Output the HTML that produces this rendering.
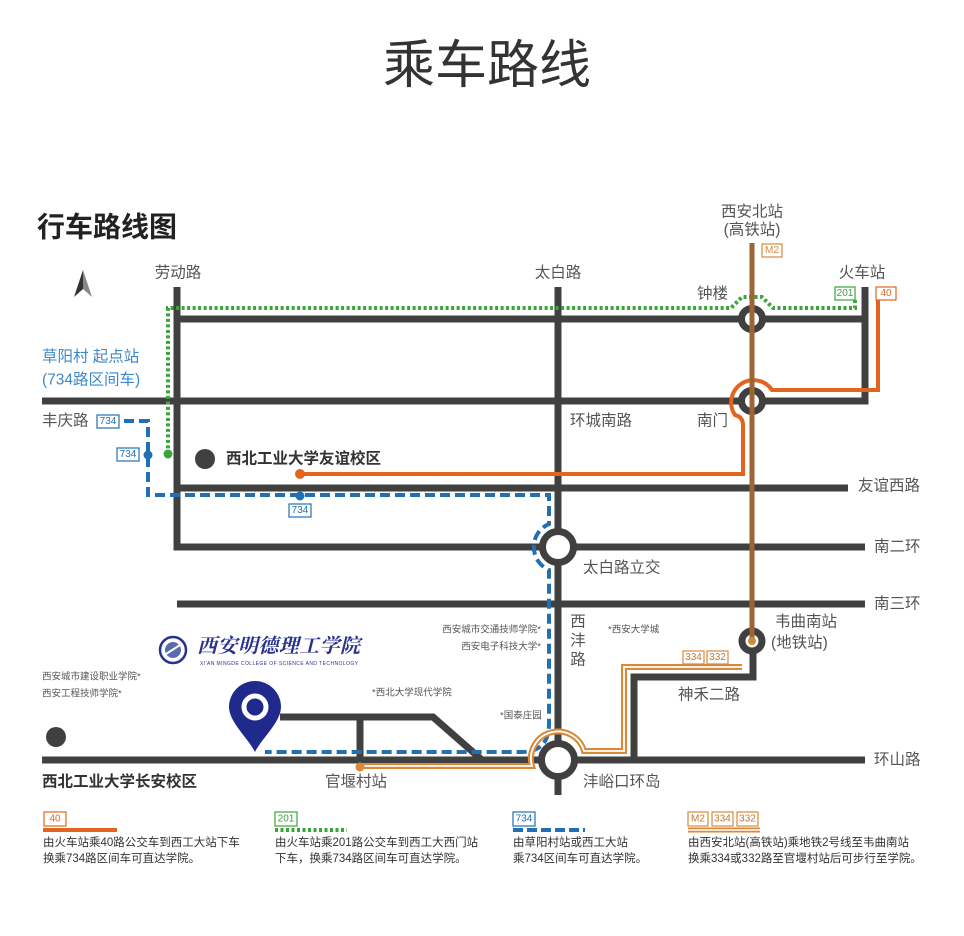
<!DOCTYPE html>
<html><head><meta charset="utf-8"><style>
html,body{margin:0;padding:0;background:#fff;}
svg{display:block;}
text{font-family:"Liberation Sans","Noto Sans CJK SC",sans-serif;}
</style></head><body>
<svg width="964" height="936" viewBox="0 0 964 936" xmlns="http://www.w3.org/2000/svg">
<rect width="964" height="936" fill="#fff"/>
<!-- Title -->
<text x="487" y="66" font-size="52" fill="#333" text-anchor="middle" dominant-baseline="central">乘车路线</text>
<text x="37" y="227" font-size="28" font-weight="bold" fill="#222" dominant-baseline="central">行车路线图</text>
<!-- North arrow -->
<polygon points="83,270 74,297 83,289" fill="#333"/>
<polygon points="83,270 92,297 83,289" fill="#888"/>

<!-- Roads -->
<g stroke="#404040" stroke-width="7" fill="none" stroke-linecap="butt">
<path d="M177 287 V548"/>
<path d="M173.5 319 H868.5"/>
<path d="M865 287 V404.5"/>
<path d="M42 401 H868.5"/>
<path d="M173.5 488 H848"/>
<path d="M173.5 547 H865"/>
<path d="M177 604 H865"/>
<path d="M558 287 V795"/>
<path d="M42 760 H865"/>
<path d="M753 641 V677 H634 V760"/>
<path d="M280 717 H433 L482 760"/>
<path d="M360 717 V760"/>
</g>
<!-- Rings -->
<g stroke="#404040" stroke-width="7" fill="#fff">
<circle cx="752" cy="319" r="10.5"/>
<circle cx="752" cy="401" r="10.5"/>
<circle cx="558" cy="547" r="15.5"/>
<circle cx="558" cy="760" r="16.5"/>
<circle cx="752" cy="641" r="10"/>
</g>

<!-- Route 40 (orange) -->
<path d="M878 300 V390 H772 A22 22 0 1 0 735 415 Q743 417 743 425 V474 H300" stroke="#e2641f" stroke-width="4" fill="none"/>
<circle cx="300" cy="474" r="5" fill="#e2641f"/>

<!-- Route 201 (green dotted) -->
<path d="M855 300 V308 H773 L762 297 H742 L731 308 H168 V454" stroke="#3aa53a" stroke-width="4" fill="none" stroke-dasharray="3 2.5"/>
<circle cx="168" cy="454" r="4.5" fill="#3aa53a"/>

<!-- Route 734 (blue dashed) -->
<path d="M124 421 H148 V495 H549 V524 A25 25 0 0 0 549 570 V724 Q549 752 521 752 H265" stroke="#2170b5" stroke-width="4" fill="none" stroke-dasharray="10 5"/>
<circle cx="148" cy="455" r="4.5" fill="#2170b5"/>
<circle cx="300" cy="496" r="4.5" fill="#2170b5"/>

<!-- Route 334/332 (tan double) -->
<path d="M742 667 H624 V751 H584 A27 27 0 0 0 532 766 H360" stroke="#d9893a" stroke-width="6" fill="none"/>
<path d="M742 667 H624 V751 H584 A27 27 0 0 0 532 766 H360" stroke="#fff" stroke-width="1.8" fill="none"/>
<circle cx="360" cy="767" r="4.5" fill="#d9893a"/>

<!-- M2 brown -->
<path d="M752 243 V641" stroke="#9b6534" stroke-width="5" fill="none"/>
<circle cx="752" cy="641" r="4" fill="#d08a3a"/>

<!-- Dots -->
<circle cx="205" cy="459" r="10" fill="#404040"/>
<circle cx="56" cy="737" r="10" fill="#404040"/>

<!-- Pin -->
<path d="M255 752 C248 738 229 722 229 707 A26 26 0 0 1 281 707 C281 722 262 738 255 752 Z" fill="#1f2a8c"/>
<circle cx="255" cy="707" r="11" fill="none" stroke="#fff" stroke-width="5"/>

<!-- Logo -->
<circle cx="173" cy="650" r="13" fill="#fff" stroke="#2a3290" stroke-width="2.5"/>
<circle cx="173" cy="650" r="8" fill="#5a6ab0"/>
<path d="M166 654 L180 645" stroke="#fff" stroke-width="2"/>
<text x="197" y="644" font-size="20" font-style="italic" font-weight="bold" fill="#2a3290" dominant-baseline="central" style="font-family:'Noto Serif CJK SC',serif" textLength="163">西安明德理工学院</text>
<text x="200" y="664" font-size="5" fill="#2a3290" dominant-baseline="central" textLength="158">XI'AN MINGDE COLLEGE OF SCIENCE AND TECHNOLOGY</text>

<!-- Labels -->
<g font-size="15.5" fill="#555" dominant-baseline="central">
<text x="178" y="273" text-anchor="middle">劳动路</text>
<text x="558" y="273" text-anchor="middle">太白路</text>
<text x="752" y="212" text-anchor="middle">西安北站</text>
<text x="752" y="230" text-anchor="middle">(高铁站)</text>
<text x="862" y="273" text-anchor="middle">火车站</text>
<text x="697" y="294">钟楼</text>
<text x="42" y="421">丰庆路</text>
<text x="570" y="421">环城南路</text>
<text x="697" y="421">南门</text>
<text x="858" y="486">友谊西路</text>
<text x="874" y="547">南二环</text>
<text x="874" y="604">南三环</text>
<text x="583" y="568">太白路立交</text>
<text x="578" y="622" text-anchor="middle">西</text>
<text x="578" y="641" text-anchor="middle">沣</text>
<text x="578" y="660" text-anchor="middle">路</text>
<text x="775" y="622">韦曲南站</text>
<text x="771" y="643">(地铁站)</text>
<text x="678" y="695">神禾二路</text>
<text x="874" y="760">环山路</text>
<text x="325" y="782">官堰村站</text>
<text x="583" y="782">沣峪口环岛</text>
</g>
<g font-size="15.5" fill="#3d88c8" dominant-baseline="central">
<text x="42" y="357">草阳村 起点站</text>
<text x="42" y="380">(734路区间车)</text>
</g>
<g font-size="15.5" font-weight="bold" fill="#333" dominant-baseline="central">
<text x="226" y="459">西北工业大学友谊校区</text>
<text x="42" y="782">西北工业大学长安校区</text>
</g>
<g font-size="9.5" fill="#555" dominant-baseline="central">
<text x="541" y="630" text-anchor="end">西安城市交通技师学院*</text>
<text x="541" y="647" text-anchor="end">西安电子科技大学*</text>
<text x="608" y="630">*西安大学城</text>
<text x="42" y="677">西安城市建设职业学院*</text>
<text x="42" y="694">西安工程技师学院*</text>
<text x="372" y="693">*西北大学现代学院</text>
<text x="500" y="716">*国泰庄园</text>
</g>

<!-- Route boxes on map -->
<g font-size="10" dominant-baseline="central" text-anchor="middle">
<rect x="762" y="244" width="20" height="13" fill="#fff" stroke="#d9893a" stroke-width="1.2"/><text x="772" y="250.5" fill="#d9893a">M2</text>
<rect x="835" y="287" width="20" height="13" fill="#fff" stroke="#3aa53a" stroke-width="1.2"/><text x="845" y="293.5" fill="#3aa53a">201</text>
<rect x="876" y="287" width="20" height="13" fill="#fff" stroke="#e2641f" stroke-width="1.2"/><text x="886" y="293.5" fill="#e2641f">40</text>
<rect x="97" y="415" width="22" height="13" fill="#fff" stroke="#2170b5" stroke-width="1.2"/><text x="108" y="421.5" fill="#2170b5">734</text>
<rect x="117" y="448" width="22" height="13" fill="#fff" stroke="#2170b5" stroke-width="1.2"/><text x="128" y="454.5" fill="#2170b5">734</text>
<rect x="289" y="504" width="22" height="13" fill="#fff" stroke="#2170b5" stroke-width="1.2"/><text x="300" y="510.5" fill="#2170b5">734</text>
<rect x="683" y="651" width="21" height="13" fill="#fff" stroke="#d9893a" stroke-width="1.2"/><text x="693.5" y="657.5" fill="#c07a30">334</text>
<rect x="707" y="651" width="21" height="13" fill="#fff" stroke="#d9893a" stroke-width="1.2"/><text x="717.5" y="657.5" fill="#c07a30">332</text>
</g>

<!-- Legend -->
<g font-size="10" dominant-baseline="central" text-anchor="middle">
<rect x="44" y="812" width="22" height="14" fill="#fff" stroke="#e2641f" stroke-width="1.2"/><text x="55" y="819" fill="#e2641f">40</text>
<rect x="275" y="812" width="22" height="14" fill="#fff" stroke="#3aa53a" stroke-width="1.2"/><text x="286" y="819" fill="#3aa53a">201</text>
<rect x="513" y="812" width="22" height="14" fill="#fff" stroke="#2170b5" stroke-width="1.2"/><text x="524" y="819" fill="#2170b5">734</text>
<rect x="688" y="812" width="20" height="14" fill="#fff" stroke="#d9893a" stroke-width="1.2"/><text x="698" y="819" fill="#c07a30">M2</text>
<rect x="712" y="812" width="21" height="14" fill="#fff" stroke="#d9893a" stroke-width="1.2"/><text x="722.5" y="819" fill="#c07a30">334</text>
<rect x="737" y="812" width="21" height="14" fill="#fff" stroke="#d9893a" stroke-width="1.2"/><text x="747.5" y="819" fill="#c07a30">332</text>
</g>
<path d="M43 830 H117" stroke="#e2641f" stroke-width="4"/>
<path d="M275 830 H347" stroke="#3aa53a" stroke-width="4" stroke-dasharray="3 2.5"/>
<path d="M513 830 H585" stroke="#2170b5" stroke-width="4" stroke-dasharray="10 4"/>
<path d="M688 830 H760" stroke="#d9893a" stroke-width="5"/>
<path d="M688 830 H760" stroke="#fff" stroke-width="1.5"/>
<g font-size="11.5" fill="#333" dominant-baseline="central">
<text x="43" y="843">由火车站乘40路公交车到西工大站下车</text>
<text x="43" y="859">换乘734路区间车可直达学院。</text>
<text x="275" y="843">由火车站乘201路公交车到西工大西门站</text>
<text x="275" y="859">下车，换乘734路区间车可直达学院。</text>
<text x="513" y="843">由草阳村站或西工大站</text>
<text x="513" y="859">乘734区间车可直达学院。</text>
<text x="688" y="843">由西安北站(高铁站)乘地铁2号线至韦曲南站</text>
<text x="688" y="859">换乘334或332路至官堰村站后可步行至学院。</text>
</g>
</svg>
</body></html>
